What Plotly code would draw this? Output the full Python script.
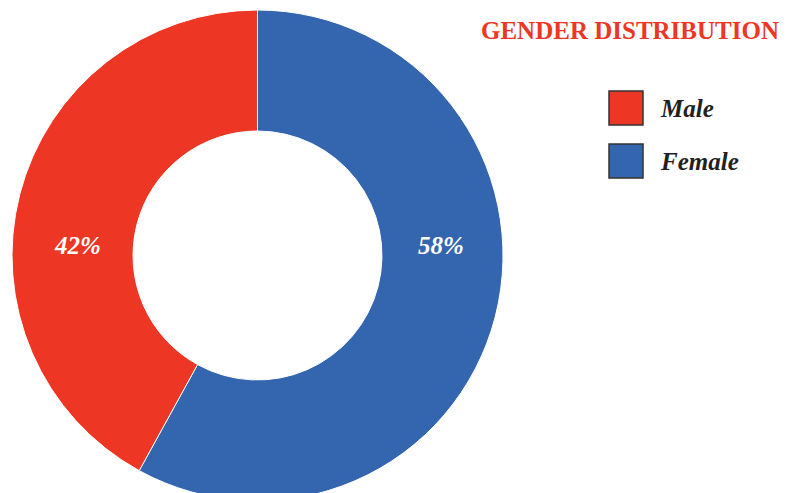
import plotly.graph_objects as go

# data
labels = ["Male", "Female"]
values = [42, 58]
colors = ["#EE3624", "#3465AF"]
title_text = "GENDER DISTRIBUTION"

# the ring is cut off at the bottom of the window, so the figure is a bit
# taller than the 493px view and the overflow is hidden
W, H = 788, 501
FONT = "Liberation Serif, Times New Roman, serif"


def py(px_from_top):
    return 1 - px_from_top / H


# Female is fed first so it runs clockwise from 12 o'clock and Male ends up on the left
fig = go.Figure(
    go.Pie(
        labels=labels[::-1],
        values=values[::-1],
        hole=0.507,
        sort=False,
        direction="clockwise",
        rotation=0,
        marker=dict(colors=colors[::-1], line=dict(color="white", width=1)),
        textinfo="none",
        hoverinfo="label+percent",
        showlegend=False,
        domain=dict(x=[12 / W, 503 / W], y=[0, 491 / H]),
    )
)

# percentage labels, both sat on the horizontal centre line of the ring
label_x = [77, 441]
for lx, v in zip(label_x, values):
    fig.add_annotation(
        x=lx / W, y=py(245), xref="paper", yref="paper",
        xanchor="center", yanchor="middle",
        text=f"<b><i>{v}%</i></b>", showarrow=False,
        font=dict(family=FONT, size=25, color="white"),
    )

# title
fig.add_annotation(
    x=781 / W, y=py(30), xref="paper", yref="paper",
    xanchor="right", yanchor="middle",
    text=f"<b>{title_text}</b>", showarrow=False,
    font=dict(family=FONT, size=25, color="#EE3624"),
)

# hand-drawn legend with big square swatches
for i, (name, c) in enumerate(zip(labels, colors)):
    top = 91 + i * 53
    fig.add_shape(
        type="rect", xref="paper", yref="paper",
        x0=609 / W, x1=643 / W, y0=py(top + 34), y1=py(top),
        fillcolor=c, line=dict(color="#333333", width=1.5),
    )
    fig.add_annotation(
        x=658 / W, y=py(top + 17), xref="paper", yref="paper",
        xanchor="left", yanchor="middle",
        text=f"<b><i>{name}</i></b>", showarrow=False,
        font=dict(family=FONT, size=25, color="#231F20"),
    )

fig.update_layout(
    width=W, height=H,
    margin=dict(l=0, r=0, t=0, b=0),
    paper_bgcolor="white",
    plot_bgcolor="white",
)

fig.write_html(
    "out.html",
    config={"displayModeBar": False},
    post_script="document.body.style.margin='0';document.body.style.overflow='hidden';",
)
